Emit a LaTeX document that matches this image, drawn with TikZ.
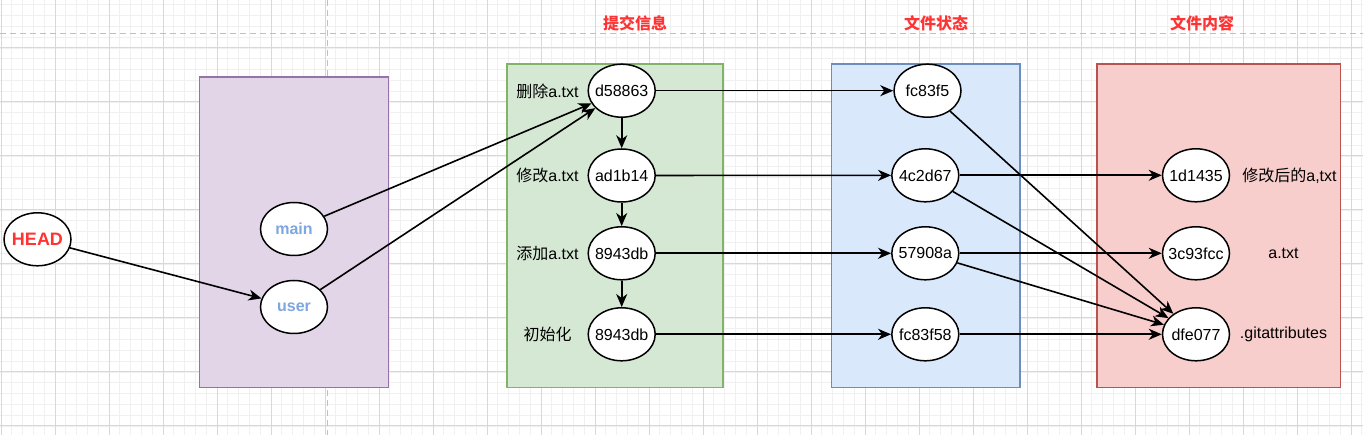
\documentclass[tikz,border=0pt]{standalone}
\usepackage{fontspec}
\setmainfont{Liberation Sans}
\newfontfamily\cjk{Noto Sans CJK SC}
\usetikzlibrary{shapes.geometric,arrows.meta}
\definecolor{gridmajor}{HTML}{D8D8D8}
\definecolor{gridminor}{HTML}{F0F0F0}
\definecolor{dashgray}{HTML}{C0C0C0}
\definecolor{purplefill}{HTML}{E1D5E7}
\definecolor{purpleline}{HTML}{9673A6}
\definecolor{greenfill}{HTML}{D5E8D4}
\definecolor{greenline}{HTML}{82B366}
\definecolor{bluefill}{HTML}{DAE8FC}
\definecolor{blueline}{HTML}{6C8EBF}
\definecolor{redfill}{HTML}{F8CECC}
\definecolor{redline}{HTML}{B85450}
\definecolor{headred}{HTML}{FF3333}
\definecolor{branchblue}{HTML}{7EA6E0}
\tikzset{
  oval/.style={ellipse, draw=black, fill=white, line width=1.5pt, minimum width=67pt, minimum height=53pt, inner sep=-8pt, font=\fontsize{16}{18}\selectfont},
  lbl/.style={font=\fontsize{16}{18}\selectfont, inner sep=0pt},
  hdr/.style={font=\cjk\bfseries\fontsize{16}{18}\selectfont, text=headred, inner sep=0pt},
  arr/.style={line width=1.6pt, -{Stealth[length=13pt,width=11pt,inset=4pt]}},
  panel/.style={line width=1.6pt},
}
\begin{document}
\begin{tikzpicture}[x=1pt,y=-1pt]
\useasboundingbox (0,0) rectangle (1363,435);
\fill[white] (0,0) rectangle (1363,435);
% grid
\foreach \i in {0,...,126} {\draw[gridminor, line width=0.9pt] ({1+10.8*\i},0) -- ({1+10.8*\i},435);}
\foreach \j in {0,...,41} {\draw[gridminor, line width=0.9pt] (0,{-6+10.8*\j}) -- (1363,{-6+10.8*\j});}
\foreach \i in {0,...,25} {\draw[gridmajor, line width=1pt] ({1+54*\i},0) -- ({1+54*\i},435);}
\foreach \j in {0,...,8} {\draw[gridmajor, line width=1pt] (0,{-6+54*\j}) -- (1363,{-6+54*\j});}
% dashed guides
\draw[dashgray, line width=1.5pt, dash pattern=on 6pt off 4pt] (0,33.3) -- (1363,33.3);
\draw[dashgray, line width=1.5pt, dash pattern=on 6pt off 4pt] (327.7,0) -- (327.7,435);
% panels
\draw[panel, draw=purpleline, fill=purplefill] (199.3,77.3) rectangle (388.3,387.7);
\draw[panel, draw=greenline, fill=greenfill] (506.7,64) rectangle (722.7,387.7);
\draw[panel, draw=blueline, fill=bluefill] (831.3,64) rectangle (1020,387.7);
\draw[panel, draw=redline, fill=redfill] (1097,64) rectangle (1340.5,387.7);
% headers
\node[hdr] (h1) at (635,23) {提交信息};
\node[hdr] (h2) at (936,23) {文件状态};
\node[hdr] (h3) at (1202,23) {文件内容};
% refs
\node[oval, font=\bfseries\fontsize{18}{20}\selectfont, text=headred] (head) at (37.5,239.3) {HEAD};
\node[oval, font=\bfseries\fontsize{16}{18}\selectfont, text=branchblue] (main) at (294,229) {main};
\node[oval, font=\bfseries\fontsize{16}{18}\selectfont, text=branchblue] (user) at (294,307) {user};
% commits
\node[oval] (c1) at (621.7,90.7) {d58863};
\node[oval] (c2) at (621.7,175.5) {ad1b14};
\node[oval] (c3) at (621.7,253.3) {8943db};
\node[oval] (c4) at (621.7,334.3) {8943db};
\node[lbl] (l1) at (547.5,91) {{\cjk 删除}a.txt};
\node[lbl] (l2) at (547.5,175.5) {{\cjk 修改}a.txt};
\node[lbl] (l3) at (547.5,253.3) {{\cjk 添加}a.txt};
\node[lbl] (l4) at (547.5,334.3) {\cjk 初始化};
% trees
\node[oval] (t1) at (927.5,90.7) {fc83f5};
\node[oval] (t2) at (925.3,175.3) {4c2d67};
\node[oval] (t3) at (925.3,253.3) {57908a};
\node[oval] (t4) at (925.3,334.3) {fc83f58};
% blobs
\node[oval] (b1) at (1196,175.3) {1d1435};
\node[oval] (b2) at (1196,253.3) {3c93fcc};
\node[oval] (b3) at (1196,334.3) {dfe077};
\node[lbl] (bl1) at (1289.5,175.3) {{\cjk 修改后的}a,txt};
\node[lbl] (bl2) at (1283.5,253.3) {a.txt};
\node[lbl] (bl3) at (1283.5,334.3) {.gitattributes};
% connectors
\draw[arr] (head) -- (user);
\draw[arr] (main) -- (c1);
\draw[arr] (user) -- (c1);
\draw[arr] (c1) -- (c2);
\draw[arr] (c2) -- (c3);
\draw[arr] (c3) -- (c4);
\draw[arr] (c1) -- (t1);
\draw[arr] (c2) -- (t2);
\draw[arr] (c3) -- (t3);
\draw[arr] (c4) -- (t4);
\draw[arr] (t1) -- (b3);
\draw[arr] (t2) -- (b1);
\draw[arr] (t2) -- (b3);
\draw[arr] (t3) -- (b2);
\draw[arr] (t3) -- (b3);
\draw[arr] (t4) -- (b3);
\end{tikzpicture}
\end{document}
